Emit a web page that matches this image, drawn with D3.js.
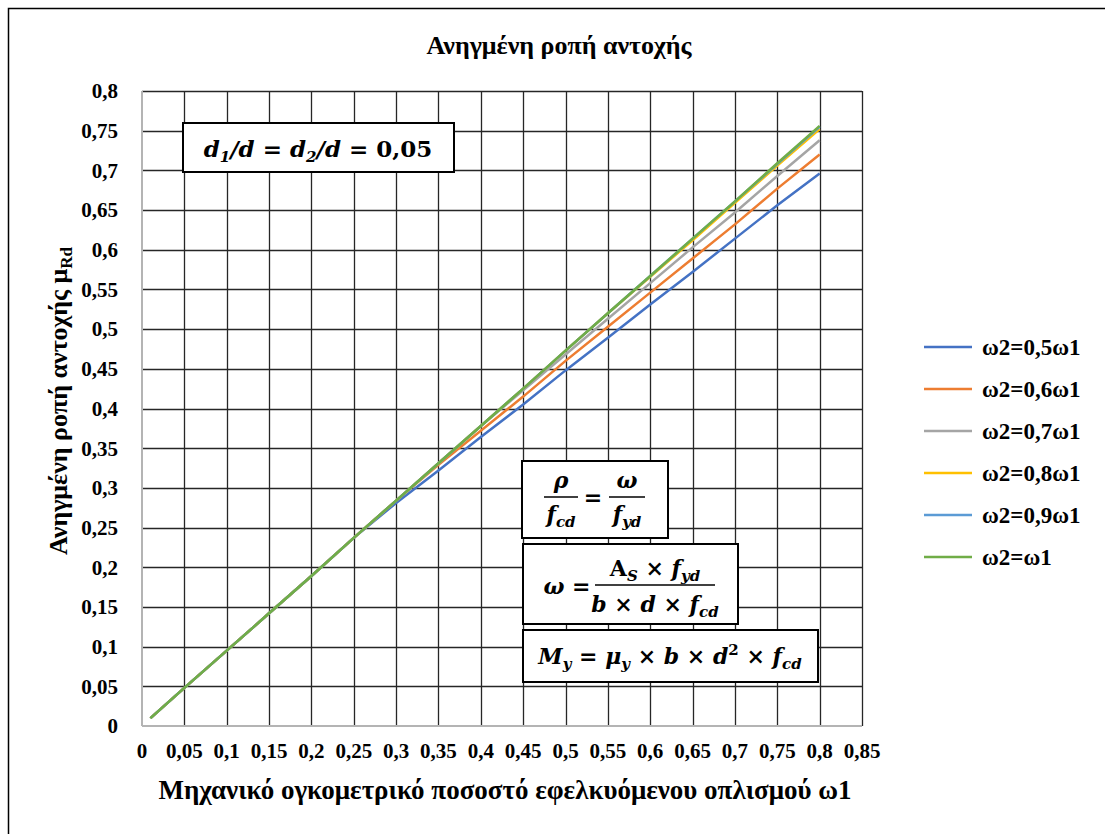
<!DOCTYPE html>
<html>
<head>
<meta charset="utf-8">
<script src="https://cdn.jsdelivr.net/npm/d3@7"></script>
<style>
  body { margin: 0; background: #fff; }
  svg text { font-family: "Liberation Serif", "Times New Roman", serif; font-weight: bold; }
  svg text.math { font-family: "DejaVu Serif", serif; font-style: italic; }
</style>
</head>
<body>
<svg id="chart" width="1105" height="834"></svg>
<script>
// 1: DATA
const omega1 = [0.01, 0.05, 0.1, 0.15, 0.2, 0.25, 0.3, 0.35, 0.4, 0.45, 0.5, 0.55, 0.6, 0.65, 0.7, 0.75, 0.8];

const mu_05 = [0.01, 0.048, 0.095, 0.142, 0.189, 0.237, 0.281, 0.322, 0.364, 0.405, 0.448, 0.489, 0.531, 0.572, 0.614, 0.656, 0.696];
const mu_06 = [0.01, 0.048, 0.095, 0.142, 0.189, 0.237, 0.284, 0.329, 0.372, 0.415, 0.46, 0.503, 0.546, 0.589, 0.632, 0.677, 0.72];
const mu_07 = [0.01, 0.048, 0.095, 0.142, 0.189, 0.237, 0.284, 0.331, 0.378, 0.423, 0.468, 0.513, 0.558, 0.603, 0.647, 0.693, 0.738];
const mu_08 = [0.01, 0.048, 0.095, 0.142, 0.189, 0.237, 0.284, 0.331, 0.378, 0.425, 0.473, 0.52, 0.566, 0.612, 0.659, 0.706, 0.752];
const mu_09 = [0.01, 0.048, 0.095, 0.142, 0.189, 0.237, 0.284, 0.331, 0.378, 0.425, 0.473, 0.52, 0.567, 0.614, 0.661, 0.708, 0.755];
const mu_10 = [0.01, 0.048, 0.095, 0.142, 0.189, 0.237, 0.284, 0.331, 0.378, 0.425, 0.473, 0.52, 0.567, 0.614, 0.661, 0.709, 0.756];

const seriesNames = ["ω2=0,5ω1", "ω2=0,6ω1", "ω2=0,7ω1", "ω2=0,8ω1", "ω2=0,9ω1", "ω2=ω1"];
const seriesColors = ["#4472C4", "#ED7D31", "#A5A5A5", "#FFC000", "#5B9BD5", "#70AD47"];
const seriesValues = [mu_05, mu_06, mu_07, mu_08, mu_09, mu_10];

const xTicks = d3.range(0, 0.851, 0.05);
const yTicks = d3.range(0, 0.801, 0.05);

const fmt = v => d3.format(".2~f")(v).replace(".", ",");

// 2: LAYOUT
const margin = { top: 91, left: 142 };
const width = 720;
const height = 635;

const svg = d3.select("#chart");

// outer frame
svg.append("rect")
    .attr("x", 8.5).attr("y", 8.5)
    .attr("width", 1200).attr("height", 900)
    .attr("fill", "none")
    .attr("stroke", "#000")
    .attr("stroke-width", 1.5);

const g = svg.append("g")
    .attr("transform", `translate(${margin.left},${margin.top})`);

// 3: SCALES
const xScale = d3.scaleLinear().domain([0, 0.85]).range([0, width]);
const yScale = d3.scaleLinear().domain([0, 0.8]).range([height, 0]);

// 4: GRID
g.append("g")
    .selectAll("line")
    .data(xTicks.slice(1))
    .join("line")
    .attr("x1", d => Math.round(xScale(d)) + 0.5)
    .attr("x2", d => Math.round(xScale(d)) + 0.5)
    .attr("y1", 0).attr("y2", height)
    .attr("stroke", "#262626").attr("stroke-width", 1.3);

g.append("g")
    .selectAll("line")
    .data(yTicks.slice(1))
    .join("line")
    .attr("y1", d => Math.round(yScale(d)) + 0.5)
    .attr("y2", d => Math.round(yScale(d)) + 0.5)
    .attr("x1", 0).attr("x2", width)
    .attr("stroke", "#262626").attr("stroke-width", 1.3);

// axis lines
g.append("line").attr("x1", 0).attr("x2", 0).attr("y1", 0).attr("y2", height)
    .attr("stroke", "#b4b4b4").attr("stroke-width", 2);
g.append("line").attr("x1", 0).attr("x2", width).attr("y1", height).attr("y2", height)
    .attr("stroke", "#b4b4b4").attr("stroke-width", 2);

// 5: TICK LABELS
g.append("g")
    .selectAll("text")
    .data(yTicks)
    .join("text")
    .attr("x", -24)
    .attr("y", d => yScale(d))
    .attr("dy", "0.35em")
    .attr("text-anchor", "end")
    .style("font-size", "21px")
    .text(d => fmt(d));

g.append("g")
    .selectAll("text")
    .data(xTicks)
    .join("text")
    .attr("x", d => xScale(d))
    .attr("y", height + 32)
    .attr("text-anchor", "middle")
    .style("font-size", "21px")
    .text(d => fmt(d));

// 6: LINES
const line = d3.line()
    .x((d, i) => xScale(omega1[i]))
    .y(d => yScale(d));

seriesValues.forEach((vals, i) => {
    g.append("path")
        .datum(vals)
        .attr("fill", "none")
        .attr("stroke", seriesColors[i])
        .attr("stroke-width", 2.5)
        .attr("d", line);
});

// 7: TITLES
svg.append("text")
    .attr("x", 559).attr("y", 54)
    .attr("text-anchor", "middle")
    .style("font-size", "26px")
    .text("Ανηγμένη ροπή αντοχής");

svg.append("text")
    .attr("x", 505).attr("y", 799)
    .attr("text-anchor", "middle")
    .style("font-size", "27px")
    .text("Μηχανικό ογκομετρικό ποσοστό εφελκυόμενου οπλισμού ω1");

const yTitle = svg.append("text")
    .attr("transform", "translate(67,401) rotate(-90)")
    .attr("text-anchor", "middle")
    .style("font-size", "26px");
yTitle.append("tspan").text("Ανηγμένη ροπή αντοχής μ");
yTitle.append("tspan").attr("dy", 5).style("font-size", "17px").text("Rd");

// 8: LEGEND
const legend = svg.append("g");
seriesNames.forEach((name, i) => {
    const y = 347 + i * 42;
    legend.append("line")
        .attr("x1", 924).attr("x2", 972)
        .attr("y1", y).attr("y2", y)
        .attr("stroke", seriesColors[i]).attr("stroke-width", 2.5);
    legend.append("text")
        .attr("x", 982).attr("y", y)
        .attr("dy", "0.35em")
        .style("font-size", "23px")
        .text(name);
});

// 9: FORMULA BOXES
function box(x, y, w, h) {
    svg.append("rect")
        .attr("x", x).attr("y", y).attr("width", w).attr("height", h)
        .attr("fill", "#fff").attr("stroke", "#000").attr("stroke-width", 2);
}
// parts: [text, kind] with kind "i" italic, "u" upright, "s" subscript, "p" superscript
function formula(x, y, size, parts) {
    const t = svg.append("text").attr("class", "math")
        .attr("x", x).attr("y", y).attr("text-anchor", "middle")
        .style("font-size", size + "px");
    let shift = 0;
    parts.forEach(([s, kind]) => {
        const target = kind === "s" ? 5 : kind === "p" ? -9 : 0;
        const ts = t.append("tspan").text(s);
        if (target !== shift) ts.attr("dy", target - shift);
        shift = target;
        if (kind === "u" || kind === "p") ts.style("font-style", "normal");
        if (kind === "s" || kind === "p") ts.style("font-size", "15px");
    });
    return t;
}

box(183, 123, 271, 49);
formula(318, 157, 23, [["d", "i"], ["1", "s"], ["/d", "i"], [" = ", "u"], ["d", "i"], ["2", "s"], ["/d", "i"], [" = 0,05", "u"]]);

// rho / fcd = omega / fyd
function frac(cx, yNum, yBar, yDen, w, num, den) {
    formula(cx, yNum, 22, num);
    svg.append("line").attr("x1", cx - w / 2).attr("x2", cx + w / 2)
        .attr("y1", yBar).attr("y2", yBar).attr("stroke", "#000").attr("stroke-width", 1.5);
    formula(cx, yDen, 22, den);
}
box(522, 461, 146, 77);
frac(561, 488, 497, 522, 34, [["ρ", "i"]], [["f", "i"], ["cd", "s"]]);
formula(593, 505, 22, [["=", "u"]]);
frac(627, 488, 497, 522, 36, [["ω", "i"]], [["f", "i"], ["yd", "s"]]);

// omega = As fyd / (b d fcd)
box(523, 544, 215, 80);
formula(567, 594, 22, [["ω", "i"], [" =", "u"]]);
frac(655, 576, 585, 612, 120,
    [["A", "u"], ["S", "s"], [" × ", "u"], ["f", "i"], ["yd", "s"]],
    [["b", "i"], [" × ", "u"], ["d", "i"], [" × ", "u"], ["f", "i"], ["cd", "s"]]);

// My = mu_y b d^2 fcd
box(523, 630, 295, 52);
formula(670, 664, 22, [["M", "i"], ["y", "s"], [" = ", "u"], ["μ", "i"], ["y", "s"],
    [" × ", "u"], ["b", "i"], [" × ", "u"], ["d", "i"], ["2", "p"], [" × ", "u"], ["f", "i"], ["cd", "s"]]);
</script>
</body>
</html>
